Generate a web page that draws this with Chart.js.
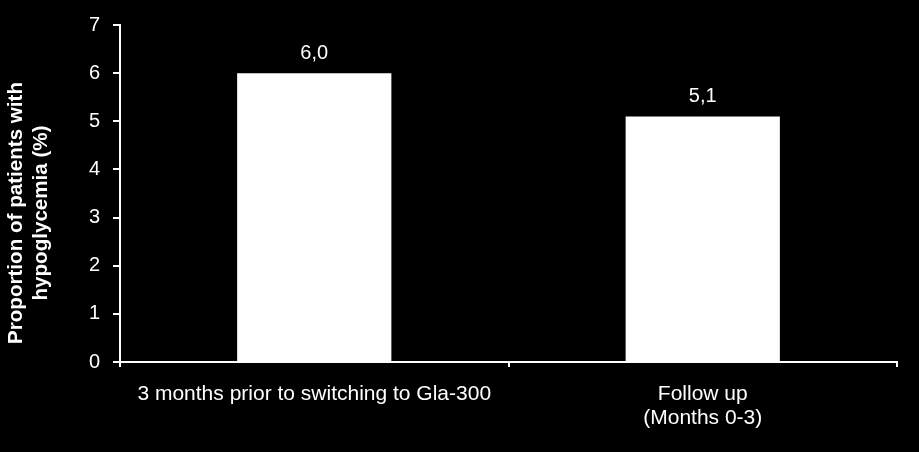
<!DOCTYPE html>
<html>
<head>
<meta charset="utf-8">
<script src="https://cdn.jsdelivr.net/npm/chart.js@4"></script>
<style>
  html, body { margin: 0; padding: 0; background: #000; }
  #wrap { width: 919px; height: 452px; position: relative; }
</style>
</head>
<body>
<div id="wrap"><canvas id="c" width="919" height="452"></canvas></div>
<script>
const categories = [["3 months prior to switching to Gla-300"], ["Follow up", "(Months 0-3)"]];
const values = [6.0, 5.1];
const valueLabels = ["6,0", "5,1"];
const yTitleLines = ["Proportion of patients with", "hypoglycemia (%)"];
const yMin = 0, yMax = 7, yStep = 1;

const FONT = "'Liberation Sans', Arial, sans-serif";

const bgPlugin = {
  id: 'bg',
  beforeDraw(chart) {
    const ctx = chart.ctx;
    ctx.save();
    ctx.fillStyle = '#000';
    ctx.fillRect(0, 0, chart.width, chart.height);
    ctx.restore();
  }
};

const valuePlugin = {
  id: 'vals',
  afterDatasetsDraw(chart) {
    const ctx = chart.ctx;
    const meta = chart.getDatasetMeta(0);
    ctx.save();
    ctx.fillStyle = '#fff';
    ctx.font = "20px " + FONT;
    ctx.textAlign = 'center';
    ctx.textBaseline = 'alphabetic';
    meta.data.forEach((bar, i) => {
      ctx.fillText(valueLabels[i], bar.x, bar.y - 14);
    });
    ctx.restore();
  }
};

const yTitlePlugin = {
  id: 'ytitle',
  afterDraw(chart) {
    const ctx = chart.ctx;
    ctx.save();
    ctx.fillStyle = '#fff';
    ctx.font = "bold 20.6px " + FONT;
    ctx.textAlign = 'center';
    ctx.textBaseline = 'middle';
    ctx.translate(29, 213);
    ctx.rotate(-Math.PI / 2);
    ctx.fillText(yTitleLines[0], 0, -12.5);
    ctx.fillText(yTitleLines[1], 0, 12.5);
    ctx.restore();
  }
};

new Chart(document.getElementById('c'), {
  type: 'bar',
  data: {
    labels: categories,
    datasets: [{
      data: values,
      backgroundColor: '#fff',
      borderWidth: 0,
      categoryPercentage: 0.397,
      barPercentage: 1.0
    }]
  },
  options: {
    responsive: false,
    animation: false,
    devicePixelRatio: 1,
    layout: { padding: { left: 0, right: 22, top: 23, bottom: 0 } },
    plugins: { legend: { display: false }, tooltip: { enabled: false } },
    scales: {
      x: {
        offset: true,
        border: { display: true, color: '#fff', width: 2 },
        grid: { display: true, drawOnChartArea: false, drawTicks: true, tickLength: 5, color: '#fff', lineWidth: 2, offset: true },
        ticks: { color: '#fff', font: { family: FONT, size: 21, lineHeight: 1.15 }, padding: 15, maxRotation: 0, autoSkip: false },
        afterFit(scale) { scale.height = 90; }
      },
      y: {
        min: yMin, max: yMax,
        border: { display: true, color: '#fff', width: 2 },
        grid: { display: true, drawOnChartArea: false, drawTicks: true, tickLength: 7, color: '#fff', lineWidth: 2 },
        ticks: { stepSize: yStep, color: '#fff', font: { family: FONT, size: 20 }, padding: 13 },
        afterFit(scale) { scale.width = 120; }
      }
    }
  },
  plugins: [bgPlugin, valuePlugin, yTitlePlugin]
});
</script>
</body>
</html>
